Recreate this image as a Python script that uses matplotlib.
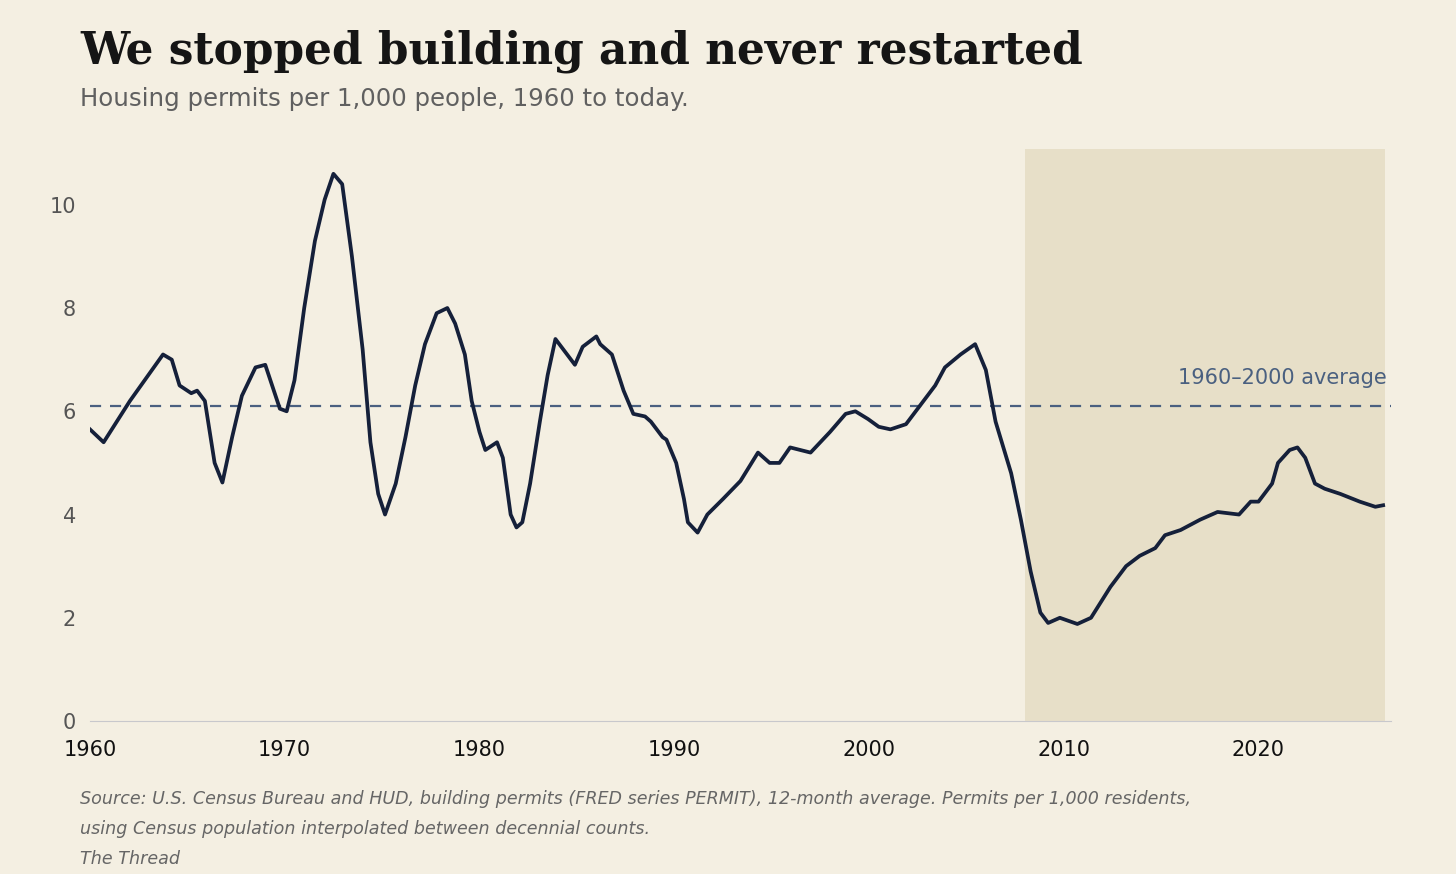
import matplotlib
matplotlib.use("Agg")
import matplotlib.pyplot as plt

years = [1960.0,1960.7,1962.05,1963.75,1964.2,1964.6,1965.2,1965.5,1965.9,1966.4,1966.8,1967.3,1967.8,1968.5,1969.0,1969.75,1970.1,1970.5,1971.0,1971.55,1972.05,1972.5,1972.95,1973.45,1974.0,1974.4,1974.8,1975.15,1975.7,1976.2,1976.7,1977.2,1977.8,1978.35,1978.75,1979.25,1979.6,
 1980.0,1980.3,1980.9,1981.2,1981.6,1981.9,1982.2,1982.6,1983.1,1983.5,1983.9,1984.4,1984.9,1985.3,1986.0,1986.2,1986.8,1987.4,1987.9,1988.5,1988.8,1989.4,1989.6,1990.1,1990.5,1990.7,1991.2,1991.7,1992.5,1993.4,1994.3,1994.9,1995.4,1995.95,1997.0,1998.0,1998.8,1999.3,1999.95,2000.5,2001.1,2001.9,2002.6,2003.4,2003.9,2004.7,2005.45,2006.0,2006.5,2007.3,2007.8,2008.3,2008.8,2009.2,2009.8,2010.7,2011.4,2012.4,2013.2,2013.9,2014.7,2015.2,2016.0,2017.0,2017.9,2019.0,2019.6,2020.0,2020.7,2021.0,2021.6,2022.0,2022.4,2022.9,2023.4,2024.2,2025.2,2026.0,2026.4]
permits = [5.65,5.4,6.2,7.1,7.0,6.5,6.35,6.4,6.2,5.0,4.62,5.5,6.3,6.85,6.9,6.05,6.0,6.6,8.0,9.3,10.1,10.6,10.4,9.0,7.2,5.4,4.4,4.0,4.6,5.5,6.5,7.3,7.9,8.0,7.7,7.1,6.2,
 5.6,5.25,5.4,5.1,4.0,3.75,3.85,4.6,5.8,6.7,7.4,7.15,6.9,7.25,7.45,7.3,7.1,6.4,5.95,5.9,5.8,5.5,5.45,5.0,4.3,3.85,3.65,4.0,4.3,4.65,5.2,5.0,5.0,5.3,5.2,5.6,5.95,6.0,5.85,5.7,5.65,5.75,6.1,6.5,6.85,7.1,7.3,6.8,5.8,4.8,3.9,2.9,2.1,1.9,2.0,1.88,2.0,2.6,3.0,3.2,3.35,3.6,3.7,3.9,4.05,4.0,4.25,4.25,4.6,5.0,5.25,5.3,5.1,4.6,4.5,4.4,4.25,4.15,4.18]
avg_1960_2000 = 6.1
xticks = [1960, 1970, 1980, 1990, 2000, 2010, 2020]
yticks = [0, 2, 4, 6, 8, 10]

bg = "#f4efe2"
fig = plt.figure(figsize=(14.56, 8.74), dpi=100, facecolor=bg)
ax = fig.add_axes([0.0618, 0.175, 0.8935, 0.6545], facecolor=bg)
ax.axvspan(2008.0, 2026.5, color="#e7dfc8", zorder=0, lw=0)
ax.axhline(avg_1960_2000, color="#4a6080", ls=(0, (5, 4)), lw=1.6, zorder=1)
ax.text(2026.6, avg_1960_2000 + 0.35, "1960–2000 average", color="#4a6080", fontsize=15, ha="right", va="bottom")
ax.plot(years, permits, color="#15203a", lw=2.7, zorder=3, solid_joinstyle="round")
ax.set_xlim(1960, 2026.8)
ax.set_ylim(0, 11.08)
ax.set_xticks(xticks)
ax.set_yticks(yticks)
ax.tick_params(length=0, labelsize=15, pad=10)
ax.tick_params(axis="x", colors="#111111", pad=14)
ax.tick_params(axis="y", colors="#555555")
for s in ["top", "right", "left"]:
    ax.spines[s].set_visible(False)
ax.spines["bottom"].set_color("#c8c8cc")

fig.text(0.055, 0.927, "We stopped building and never restarted", family="DejaVu Serif", fontweight="bold", fontsize=31.6, color="#151515", va="baseline")
fig.text(0.055, 0.879, "Housing permits per 1,000 people, 1960 to today.", fontsize=17.6, color="#606060", va="baseline")
fig.text(0.055, 0.080, "Source: U.S. Census Bureau and HUD, building permits (FRED series PERMIT), 12-month average. Permits per 1,000 residents,", fontsize=12.6, style="italic", color="#666666")
fig.text(0.055, 0.046, "using Census population interpolated between decennial counts.", fontsize=12.6, style="italic", color="#666666")
fig.text(0.055, 0.011, "The Thread", fontsize=12.6, style="italic", color="#666666")
fig.savefig("out.png", dpi=100, facecolor=bg)
